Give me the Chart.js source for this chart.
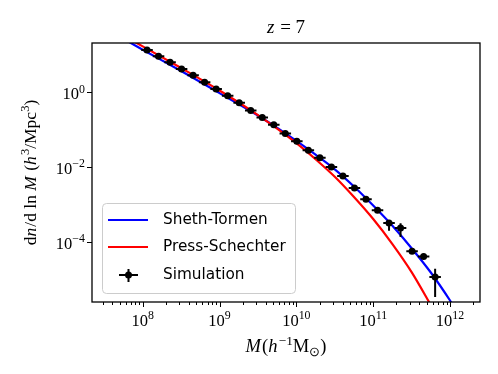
<!DOCTYPE html>
<html>
<head>
<meta charset="utf-8">
<script src="https://cdn.jsdelivr.net/npm/chart.js@4/dist/chart.umd.min.js"></script>
<style>
  html, body { margin: 0; padding: 0; background: #fff; }
</style>
</head>
<body>
<canvas id="hmf" width="498" height="374"></canvas>
<script>
// simulation bins, h^-1 Msun
const simMass = [1.138e8, 1.607e8, 2.270e8, 3.206e8, 4.529e8, 6.397e8, 9.036e8, 1.276e9,
  1.803e9, 2.547e9, 3.597e9, 5.082e9, 7.178e9, 1.014e10, 1.432e10, 2.023e10, 2.858e10,
  4.036e10, 5.702e10, 8.054e10, 1.138e11, 1.607e11, 2.270e11, 3.206e11, 4.529e11, 6.397e11];
// dn/dlnM, h^3 Mpc^-3
const simDensity = [13.6, 9.23, 6.37, 4.22, 2.86, 1.85, 1.22, 0.805, 0.524, 0.325, 0.211,
  0.135, 0.0796, 0.0494, 0.0284, 0.0177, 0.0101, 0.00581, 0.00277, 0.00138, 0.000700,
  0.000319, 0.000234, 5.56e-5, 4.08e-5, 1.14e-5];
// error bars (dex above / below the point)
const simErrUpDex = [0.01, 0.01, 0.01, 0.01, 0.01, 0.01, 0.01, 0.01, 0.01, 0.01, 0.01, 0.01,
  0.01, 0.01, 0.01, 0.01, 0.01, 0.01, 0.01, 0.03, 0.04, 0.07, 0.13, 0.05, 0.05, 0.225];
const simErrDownDex = [0.01, 0.01, 0.01, 0.01, 0.01, 0.01, 0.01, 0.01, 0.01, 0.01, 0.01, 0.01,
  0.01, 0.01, 0.01, 0.01, 0.01, 0.01, 0.01, 0.03, 0.04, 0.21, 0.24, 0.06, 0.06, 0.536];
const binHalfWidthDex = 0.075;

// Sheth-Tormen
const stMass = [5.01e7, 1e8, 3.162e8, 1e9, 3.162e9, 1e10, 1.778e10, 3.162e10, 5.623e10,
  1e11, 1.778e11, 3.162e11, 5.623e11, 1e12, 1.259e12];
const stDensity = [30.9, 13.8, 3.72, 0.955, 0.240, 0.0501, 0.0214, 0.00871, 0.00302,
  9.33e-4, 2.69e-4, 6.76e-5, 1.51e-5, 2.69e-6, 1.26e-6];

// Press-Schechter
const psMass = [5.01e7, 1e8, 3.162e8, 1e9, 3.162e9, 1e10, 1.778e10, 3.162e10, 5.623e10,
  1e11, 1.778e11, 3.162e11, 5.333e11, 6.31e11];
const psDensity = [37.2, 17.0, 4.47, 1.12, 0.245, 0.0437, 0.0162, 0.00550, 0.00158,
  4.07e-4, 8.71e-5, 1.55e-5, 2.45e-6, 1.32e-6];

const xTicks = [1e8, 1e9, 1e10, 1e11, 1e12];
const xTickExp = ['8', '9', '10', '11', '12'];
const yTicks = [1, 1e-2, 1e-4];
const yTickExp = ['0', '\u22122', '\u22124'];

const seriesNames = ['Sheth-Tormen', 'Press-Schechter', 'Simulation'];

const serif = '"Liberation Serif", "Times New Roman", serif';
const sans = '"DejaVu Sans", sans-serif';

function toXY(xs, ys) {
  return xs.map((x, i) => ({ x: x, y: ys[i] }));
}

// draw a run of mixed roman / italic / script text, y is the baseline
function drawMath(ctx, parts, x, y, size, align) {
  let total = 0;
  const items = parts.map(([t, s]) => {
    const small = s === 'sup' || s === 'sub';
    const sz = small ? size * 0.72 : size;
    const f = (s === 'i' ? 'italic ' : '') + sz + 'px ' + serif;
    ctx.font = f;
    const w = ctx.measureText(t).width + (s === 'i' ? size * 0.06 : 0);
    total += w;
    return { t, f, w, dy: s === 'sup' ? -size * 0.4 : s === 'sub' ? size * 0.22 : 0 };
  });
  let cx = align === 'center' ? x - total / 2 : align === 'right' ? x - total : x;
  ctx.textAlign = 'left';
  ctx.textBaseline = 'alphabetic';
  items.forEach(p => {
    ctx.font = p.f;
    ctx.fillText(p.t, cx, y + p.dy);
    cx += p.w;
  });
}

const errorBars = {
  id: 'errorBars',
  afterDatasetsDraw(chart) {
    const { ctx, chartArea: a, scales: { x, y } } = chart;
    ctx.save();
    ctx.beginPath();
    ctx.rect(a.left, a.top, a.right - a.left, a.bottom - a.top);
    ctx.clip();
    ctx.strokeStyle = '#000';
    ctx.lineWidth = 2;
    simMass.forEach((m, i) => {
      const n = simDensity[i];
      const px = x.getPixelForValue(m);
      const py = y.getPixelForValue(n);
      ctx.beginPath();
      ctx.moveTo(x.getPixelForValue(m * Math.pow(10, -binHalfWidthDex)), py);
      ctx.lineTo(x.getPixelForValue(m * Math.pow(10, binHalfWidthDex)), py);
      ctx.moveTo(px, y.getPixelForValue(n * Math.pow(10, simErrUpDex[i])));
      ctx.lineTo(px, y.getPixelForValue(n * Math.pow(10, -simErrDownDex[i])));
      ctx.stroke();
    });
    ctx.restore();
  }
};

const axesAndText = {
  id: 'axesAndText',
  afterDraw(chart) {
    const { ctx, chartArea: a, scales: { x, y } } = chart;
    ctx.save();
    ctx.fillStyle = '#000';
    ctx.strokeStyle = '#000';

    // ticks
    ctx.lineWidth = 1;
    ctx.beginPath();
    for (let e = 7; e <= 12; e++) {
      for (let k = 1; k <= 9; k++) {
        const v = k * Math.pow(10, e);
        if (v < x.min || v > x.max) continue;
        const px = Math.round(x.getPixelForValue(v)) + 0.5;
        ctx.moveTo(px, a.bottom);
        ctx.lineTo(px, a.bottom + (k === 1 ? 5 : 3));
      }
    }
    yTicks.forEach(v => {
      const py = Math.round(y.getPixelForValue(v)) + 0.5;
      ctx.moveTo(a.left, py);
      ctx.lineTo(a.left - 5, py);
    });
    ctx.stroke();

    // frame
    ctx.lineWidth = 1.3;
    ctx.strokeRect(a.left, a.top, a.right - a.left, a.bottom - a.top);

    // tick labels
    xTicks.forEach((v, i) => {
      drawMath(ctx, [['10', 'r'], [xTickExp[i], 'sup']], x.getPixelForValue(v), a.bottom + 24, 16.5, 'center');
    });
    yTicks.forEach((v, i) => {
      drawMath(ctx, [['10', 'r'], [yTickExp[i], 'sup']], a.left - 7, y.getPixelForValue(v) + 7, 16.5, 'right');
    });

    // title and axis labels
    drawMath(ctx, [['z', 'i'], [' = 7', 'r']], (a.left + a.right) / 2, 33, 19, 'center');
    drawMath(ctx, [['M', 'i'], ['(', 'r'], ['h', 'i'], ['\u22121', 'sup'], ['M', 'r'], ['\u2299', 'sub'], [')', 'r']],
      (a.left + a.right) / 2, 352, 18.5, 'center');
    ctx.save();
    ctx.translate(36, (a.top + a.bottom) / 2);
    ctx.rotate(-Math.PI / 2);
    drawMath(ctx, [['d', 'r'], ['n', 'i'], ['/d ln ', 'r'], ['M', 'i'], [' (', 'r'], ['h', 'i'], ['3', 'sup'],
      ['/Mpc', 'r'], ['3', 'sup'], [')', 'r']], 0, 0, 17.5, 'center');
    ctx.restore();

    // legend
    const lx = 102, ly = 203, lw = 193, lh = 90;
    ctx.beginPath();
    ctx.roundRect(lx + 0.5, ly + 0.5, lw, lh, 4);
    ctx.fillStyle = 'rgba(255,255,255,0.8)';
    ctx.fill();
    ctx.strokeStyle = '#cccccc';
    ctx.lineWidth = 1;
    ctx.stroke();

    const rows = [220, 247, 275];
    ctx.lineWidth = 2.2;
    ctx.strokeStyle = '#0000ff';
    ctx.beginPath(); ctx.moveTo(108, rows[0]); ctx.lineTo(148, rows[0]); ctx.stroke();
    ctx.strokeStyle = '#ff0000';
    ctx.beginPath(); ctx.moveTo(108, rows[1]); ctx.lineTo(148, rows[1]); ctx.stroke();
    ctx.strokeStyle = '#000';
    ctx.lineWidth = 2;
    ctx.beginPath();
    ctx.moveTo(119, rows[2]); ctx.lineTo(138, rows[2]);
    ctx.moveTo(128.5, rows[2] - 6); ctx.lineTo(128.5, rows[2] + 7);
    ctx.stroke();
    ctx.fillStyle = '#000';
    ctx.beginPath(); ctx.arc(128.5, rows[2], 3.5, 0, Math.PI * 2); ctx.fill();

    ctx.font = '15.3px ' + sans;
    ctx.textAlign = 'left';
    ctx.textBaseline = 'middle';
    seriesNames.forEach((s, i) => ctx.fillText(s, 163, rows[i]));
    ctx.restore();
  }
};

new Chart(document.getElementById('hmf'), {
  type: 'line',
  data: {
    datasets: [
      {
        label: seriesNames[2],
        data: toXY(simMass, simDensity),
        showLine: false,
        pointRadius: 3.5,
        pointBorderWidth: 0,
        pointBackgroundColor: '#000',
        clip: 0
      },
      {
        label: seriesNames[1],
        data: toXY(psMass, psDensity),
        borderColor: '#ff0000',
        borderWidth: 2.2,
        pointRadius: 0,
        cubicInterpolationMode: 'monotone',
        clip: 0
      },
      {
        label: seriesNames[0],
        data: toXY(stMass, stDensity),
        borderColor: '#0000ff',
        borderWidth: 2.2,
        pointRadius: 0,
        cubicInterpolationMode: 'monotone',
        clip: 0
      }
    ]
  },
  options: {
    responsive: false,
    animation: false,
    layout: { padding: { left: 92, right: 18, top: 43, bottom: 72 } },
    scales: {
      x: { type: 'logarithmic', min: Math.pow(10, 7.34), max: Math.pow(10, 12.39), display: false },
      y: { type: 'logarithmic', min: Math.pow(10, -5.61), max: Math.pow(10, 1.32), display: false }
    },
    plugins: { legend: { display: false }, title: { display: false }, tooltip: { enabled: false } }
  },
  plugins: [errorBars, axesAndText]
});
</script>
</body>
</html>
